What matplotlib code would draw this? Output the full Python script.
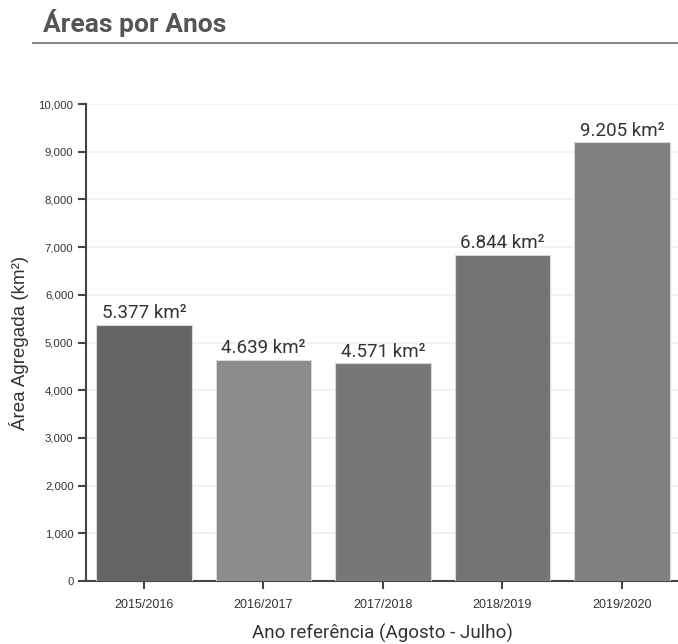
import matplotlib

matplotlib.use("Agg")

import matplotlib.pyplot as plt
from matplotlib.lines import Line2D
from matplotlib.ticker import FuncFormatter, MultipleLocator

years = ["2015/2016", "2016/2017", "2017/2018", "2018/2019", "2019/2020"]
areas = [5377, 4639, 4571, 6844, 9205]
value_labels = ["5.377 km²", "4.639 km²", "4.571 km²", "6.844 km²", "9.205 km²"]
bar_colors = ["#646464", "#8c8c8c", "#777777", "#747474", "#808080"]

plt.rcParams.update({"font.family": ["Roboto", "DejaVu Sans"]})

W, H = 678, 644
fig = plt.figure(figsize=(W / 100, H / 100), dpi=100)
fig.patch.set_facecolor("white")

# title + rule
fig.text(43 / W, 1 - 23 / H, "Áreas por Anos", fontsize=19, fontweight="bold",
         color="#555555", va="center", ha="left")
fig.add_artist(Line2D([33 / W, 1], [1 - 43 / H, 1 - 43 / H], color="#8a8a8a",
                      linewidth=1.5, transform=fig.transFigure))

ax = fig.add_axes([86 / W, (H - 581) / H, (W - 86) / W, 477 / H])
x = list(range(len(years)))
ax.bar(x, areas, width=0.8, color=bar_colors, edgecolor="#d8d8d8", linewidth=0.8, zorder=3)

for xi, v, lab in zip(x, areas, value_labels):
    ax.text(xi, v + 50, lab, ha="center", va="bottom", fontsize=13.5, color="#333333")

ax.set_xlim(-0.485, 4.47)
ax.set_ylim(0, 10000)
ax.yaxis.set_major_locator(MultipleLocator(1000))
ax.yaxis.set_major_formatter(FuncFormatter(lambda v, p: f"{int(v):,}"))
ax.set_xticks(x)
ax.set_xticklabels(years)

ax.grid(axis="y", color="#f0f0f0", linewidth=1.2, zorder=0)
for s in ("top", "right"):
    ax.spines[s].set_visible(False)
for s in ("left", "bottom"):
    ax.spines[s].set_color("#444444")
    ax.spines[s].set_linewidth(1.5)

ax.tick_params(axis="both", colors="#444444", labelcolor="#333333", length=6, width=1.5)
ax.tick_params(axis="y", pad=3, labelsize=8.2)
ax.tick_params(axis="x", pad=7, labelsize=9)
for t in ax.get_yticklabels() + ax.get_xticklabels():
    t.set_family(["Liberation Sans", "DejaVu Sans"])

ax.set_ylabel("Área Agregada (km²)", fontsize=13.5, color="#333333", labelpad=7,
              family=["Liberation Sans", "DejaVu Sans"])
ax.set_xlabel("Ano referência (Agosto - Julho)", fontsize=13.5, color="#333333", labelpad=9)

fig.savefig("out.png", dpi=100)
